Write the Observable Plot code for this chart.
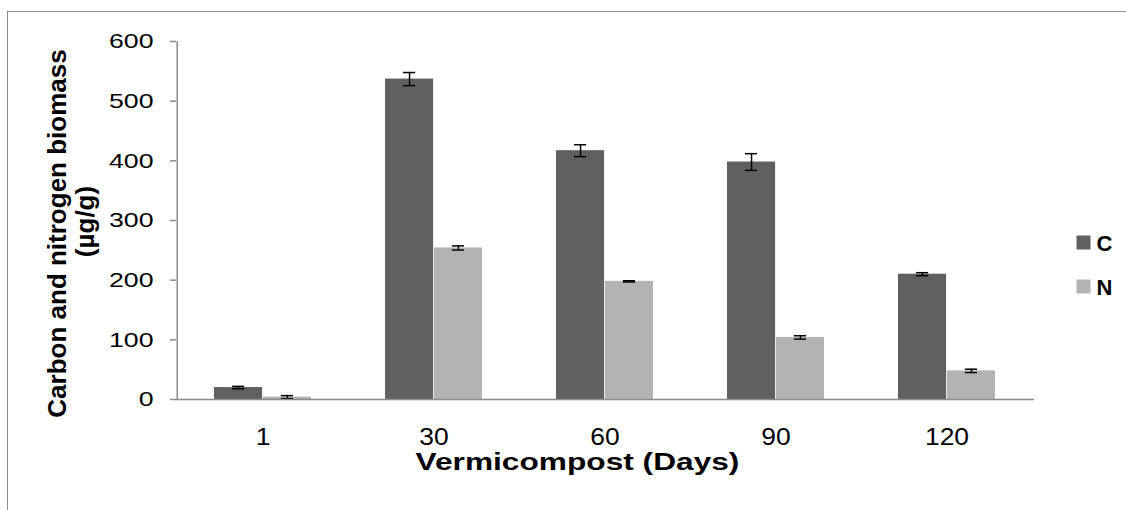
<!DOCTYPE html>
<html>
<head>
<meta charset="utf-8">
<script src="https://cdn.jsdelivr.net/npm/d3@7"></script>
<script src="https://cdn.jsdelivr.net/npm/@observablehq/plot@0.6"></script>
<style>
  html, body { margin: 0; padding: 0; background: #fff; overflow: hidden; }
  #wrap { position: relative; width: 1126px; height: 510px; }
  #chart { position: absolute; left: 0; top: 0; z-index: 1; }
  #border { position: absolute; left: 7px; top: 11px; width: 1300px; height: 700px; z-index: 2;
            border-left: 1.5px solid #8c8c8c; border-top: 1.5px solid #8c8c8c; pointer-events: none; }
</style>
</head>
<body>
<div id="wrap"><div id="chart"></div><div id="border"></div></div>
<script>
const days = ["1", "30", "60", "90", "120"];
const cValues = [20, 537, 417, 398, 210];
const cErrors = [2, 11, 10, 14, 2.5];
const nValues = [4, 254, 198, 104, 48];
const nErrors = [2.5, 3.5, 1, 2.8, 2.8];
const seriesNames = ["C", "N"];
const seriesColors = ["#606060", "#b3b3b3"];
const yTicks = [0, 100, 200, 300, 400, 500, 600];
const xTitle = "Vermicompost (Days)";
const yTitle1 = "Carbon and nitrogen biomass";
const yTitle2 = "(µg/g)";

const cData = days.map((d, i) => ({day: d, series: "C", value: cValues[i], err: cErrors[i]}));
const nData = days.map((d, i) => ({day: d, series: "N", value: nValues[i], err: nErrors[i]}));

const W = 1126, H = 510, ML = 176, MR = 92, MT = 41, MB = 111;
const padIn = 0.43, padOut = 0.215;
const step = (W - ML - MR) / days.length;
const bw = step * (1 - padIn);
const capW = 13;
const capInset = (bw - capW) / 2;

function errMarks(data, dx) {
  return [
    Plot.ruleX(data, {x: "day", y1: d => d.value - d.err, y2: d => d.value + d.err, dx, stroke: "black", strokeWidth: 1.5}),
    Plot.tickY(data, {x: "day", y: d => d.value + d.err, dx, insetLeft: capInset, insetRight: capInset, stroke: "black", strokeWidth: 1.5}),
    Plot.tickY(data, {x: "day", y: d => d.value - d.err, dx, insetLeft: capInset, insetRight: capInset, stroke: "black", strokeWidth: 1.5})
  ];
}

const chart = Plot.plot({
  width: W, height: H,
  marginLeft: ML, marginRight: MR, marginTop: MT, marginBottom: MB,
  style: {fontFamily: "'Liberation Sans', Arial, sans-serif", background: "white", color: "black", overflow: "visible"},
  x: {type: "band", domain: days, paddingInner: padIn, paddingOuter: padOut},
  y: {domain: [0, 600]},
  color: {domain: seriesNames, range: seriesColors},
  marks: [
    Plot.barY(cData, {x: "day", y: "value", fill: "series", insetRight: bw / 2}),
    Plot.barY(nData, {x: "day", y: "value", fill: "series", insetLeft: bw / 2}),
    ...errMarks(cData, -bw / 4),
    ...errMarks(nData, bw / 4),
    Plot.ruleY([0], {stroke: "#8c8c8c", strokeWidth: 1.5}),
    Plot.ruleX([days[0]], {y1: 0, y2: 600, dx: -(padOut * step + bw / 2), stroke: "#8c8c8c", strokeWidth: 1.5}),
    Plot.axisY(yTicks, {tickSize: 6, tickPadding: 17, fontSize: 21, stroke: "#8c8c8c", strokeWidth: 1.5, fill: "black", label: null}),
    Plot.axisX({tickSize: 0, tickPadding: 29, fontSize: 23, fill: "black", label: null}),
    Plot.text([xTitle], {frameAnchor: "bottom", dx: -28, dy: 63, text: d => d, textAnchor: "middle", lineAnchor: "middle", fontSize: 24, fontWeight: "bold", fill: "black"}),
    Plot.text([yTitle1], {frameAnchor: "left", dx: -118.5, dy: 13, rotate: -90, text: d => d, textAnchor: "middle", lineAnchor: "middle", fontSize: 26, fontWeight: "bold", fill: "black"}),
    Plot.text([yTitle2], {frameAnchor: "left", dx: -91, dy: 1, rotate: -90, text: d => d, textAnchor: "middle", lineAnchor: "middle", fontSize: 26, fontWeight: "bold", fill: "black"}),
    Plot.dot([seriesNames[0]], {frameAnchor: "top-right", dx: 49, dy: 201, symbol: "square", r: 14 / Math.sqrt(Math.PI), fill: d => d, stroke: "none"}),
    Plot.dot([seriesNames[1]], {frameAnchor: "top-right", dx: 49, dy: 245, symbol: "square", r: 14 / Math.sqrt(Math.PI), fill: d => d, stroke: "none"}),
    Plot.text([seriesNames[0]], {frameAnchor: "top-right", dx: 62, dy: 202, text: d => d, textAnchor: "start", lineAnchor: "middle", fontSize: 22, fontWeight: "bold", fill: "black"}),
    Plot.text([seriesNames[1]], {frameAnchor: "top-right", dx: 62, dy: 246, text: d => d, textAnchor: "start", lineAnchor: "middle", fontSize: 22, fontWeight: "bold", fill: "black"})
  ]
});
document.getElementById("chart").appendChild(chart);

// horizontally widen text glyphs to mimic the reference's wide rendering
function stretch(el, s) {
  const t = el.getAttribute("transform");
  if (t && /translate/.test(t)) {
    el.setAttribute("transform", t + ` scale(${s},1)`);
  } else {
    const x = +el.getAttribute("x") || 0;
    el.setAttribute("transform", `translate(${x},0) scale(${s},1) translate(${-x},0)`);
  }
}
const yTickSet = new Set(yTicks.map(String));
const xTickSet = new Set(days);
chart.querySelectorAll("text").forEach(el => {
  const s = el.textContent;
  if (yTickSet.has(s)) stretch(el, 1.27);
  else if (xTickSet.has(s)) stretch(el, 1.15);
  else if (s === xTitle) stretch(el, 1.32);
});
</script>
</body>
</html>
